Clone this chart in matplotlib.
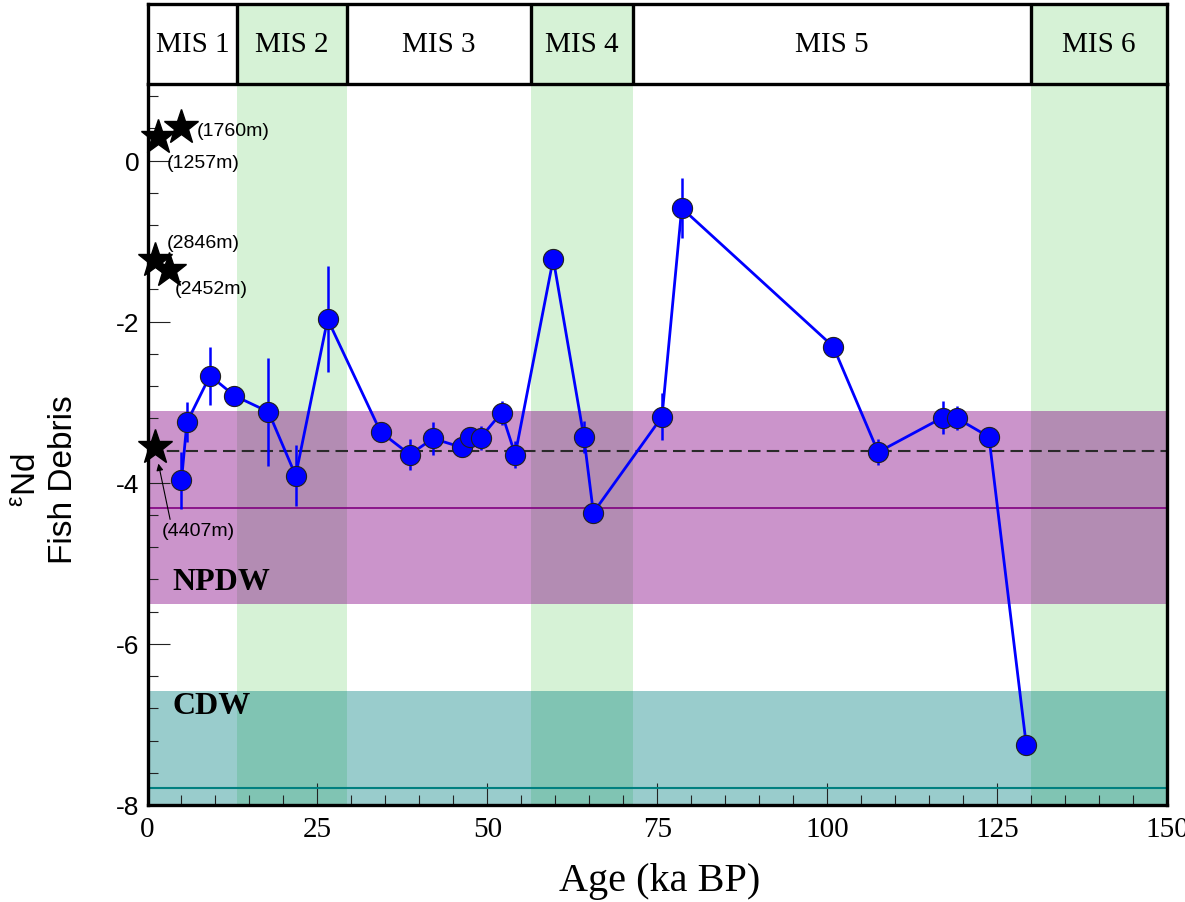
import matplotlib
matplotlib.use("Agg")
import matplotlib.pyplot as plt
from matplotlib.ticker import MultipleLocator

plt.rcParams['axes.unicode_minus'] = False

# fish debris eNd record
age = [5.0, 5.8, 9.2, 12.8, 17.8, 21.8, 26.5, 34.3, 38.6, 42.0, 46.2, 47.5, 49.0,
       52.1, 54.1, 59.7, 64.2, 65.6, 75.7, 78.6, 100.9, 107.5, 117.0, 119.1, 123.8, 129.3]
end = [-3.97, -3.25, -2.67, -2.92, -3.12, -3.91, -1.97, -3.37, -3.65, -3.45, -3.56, -3.43, -3.44,
       -3.13, -3.65, -1.22, -3.43, -4.37, -3.18, -0.59, -2.31, -3.62, -3.19, -3.20, -3.43, -7.26]
err = [0.35, 0.25, 0.36, 0.10, 0.67, 0.38, 0.66, 0.10, 0.19, 0.20, 0.10, 0.10, 0.15,
       0.15, 0.17, 0.10, 0.20, 0.10, 0.29, 0.37, 0.10, 0.16, 0.20, 0.15, 0.10, 0.10]

# core-top / seawater stations
star_age = [1.6, 5.0, 1.1, 3.2, 1.1]
star_end = [0.29, 0.42, -1.24, -1.36, -3.56]
star_depth = ['(1257m)', '(1760m)', '(2846m)', '(2452m)', '(4407m)']

# marine isotope stages
mis_names = ['MIS 1', 'MIS 2', 'MIS 3', 'MIS 4', 'MIS 5', 'MIS 6']
mis_edges = [0, 13.2, 29.3, 56.4, 71.5, 130, 150]

# water mass ranges
npdw_range = (-5.51, -3.11)
npdw_mean = -4.31
cdw_range = (-8.0, -6.59)
cdw_mean = -7.79
core_top = -3.61

green = '#d6f2d6'
sans = 'Liberation Sans'
serif = 'Liberation Serif'

W, H = 1185, 903
fig = plt.figure(figsize=(W / 100, H / 100), dpi=100)
x0, x1 = 147.5, 1167
ax = fig.add_axes([x0 / W, 1 - 806 / H, (x1 - x0) / W, (806 - 85) / H])
bar = fig.add_axes([x0 / W, 1 - 85 / H, (x1 - x0) / W, 80 / H])

# MIS bar
for i, name in enumerate(mis_names):
    a, b = mis_edges[i], mis_edges[i + 1]
    if i % 2 == 1:
        bar.axvspan(a, b, color=green, lw=0)
        ax.axvspan(a, b, color=green, lw=0, zorder=0)
    if i > 0:
        bar.axvline(a, color='k', lw=2.4)
    bar.text((a + b) / 2, 0.5, name, ha='center', va='center',
             fontsize=21, family=serif)
bar.set_xlim(0, 150)
bar.set_ylim(0, 1)
bar.set_xticks([])
bar.set_yticks([])
for s in bar.spines.values():
    s.set_linewidth(2.4)

# water masses
ax.axhspan(*npdw_range, color='#840084', alpha=0.42, lw=0, zorder=1)
ax.axhspan(*cdw_range, color='#008080', alpha=0.4, lw=0, zorder=1)
ax.axhline(npdw_mean, color='#800080', lw=1.2, zorder=2)
ax.axhline(cdw_mean, color='#008080', lw=1.5, zorder=2)
ax.axhline(core_top, color='#2a2a2a', lw=1.5, ls=(0, (6, 3)), zorder=2)
ax.text(3.7, -5.23, 'NPDW', fontsize=23, fontweight='bold', family=serif,
        ha='left', va='center', zorder=3)
ax.text(3.7, -6.77, 'CDW', fontsize=23, fontweight='bold', family=serif,
        ha='left', va='center', zorder=3)

ax.errorbar(age, end, yerr=err, color='blue', lw=2, elinewidth=1.8, capsize=0,
            marker='o', ms=14.5, mfc='blue', mec='#202020', mew=0.8, zorder=5)

ax.plot(star_age, star_end, '*', color='k', ms=26, ls='none', clip_on=False, zorder=6)
label_off = [(6, -18), (11, -2.5), (8.5, 13), (4, -13)]
for i in range(4):
    ax.annotate(star_depth[i], (star_age[i], star_end[i]), xytext=label_off[i],
                textcoords='offset points', fontsize=14, family=sans,
                ha='left', va='center', zorder=7)
ax.annotate(star_depth[4], (star_age[4], star_end[4]), xytext=(5, -60),
            textcoords='offset points', fontsize=14, family=sans,
            ha='left', va='center', zorder=7,
            arrowprops=dict(arrowstyle='-|>', color='k', lw=0.8,
                            mutation_scale=10, shrinkA=0, shrinkB=12,
                            relpos=(0.12, 1.0)))

ax.set_xlim(0, 150)
ax.set_ylim(-8, 0.95)
ax.set_yticks([-8, -6, -4, -2, 0])
ax.yaxis.set_minor_locator(MultipleLocator(0.4))
ax.xaxis.set_major_locator(MultipleLocator(25))
ax.xaxis.set_minor_locator(MultipleLocator(5))
ax.tick_params(which='major', direction='in', length=16, width=0.8, color='#222222')
ax.tick_params(which='minor', direction='in', length=7, width=0.8, color='#222222')
ax.tick_params(axis='y', labelsize=19, pad=6)
ax.tick_params(axis='x', labelsize=21, pad=8)
for lab in ax.get_yticklabels():
    lab.set_family(sans)
for lab in ax.get_xticklabels():
    lab.set_family(serif)
for s in ax.spines.values():
    s.set_linewidth(2.4)
ax.spines['top'].set_visible(False)

fig.text(660 / W, 1 - 882 / H, 'Age (ka BP)', ha='center', va='center',
         fontsize=29, family=serif)
fig.text(46 / W, 1 - 480 / H, '$\\mathregular{^{ε}}$Nd\nFish Debris', rotation=90,
         ha='center', va='center', multialignment='center', fontsize=24, family=sans)

fig.savefig('out.png', dpi=100)
